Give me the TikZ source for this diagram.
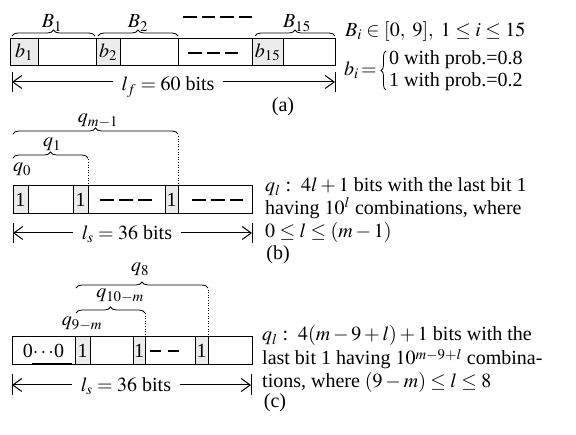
\documentclass[tikz,border=0pt]{standalone}
\usepackage{mathptmx}
\usepackage{fontspec}
\setmainfont{Liberation Serif}
\usetikzlibrary{arrows.meta,decorations.pathreplacing}
\tikzset{
  blk/.style={draw, line width=1pt, inner sep=0pt, outer sep=0pt, anchor=north west},
  cellg/.style={blk, fill=black!8},
  brc/.style={decorate, decoration={brace, amplitude=6pt}, line width=0.8pt},
  vbrc/.style={decorate, decoration={brace, amplitude=5pt}, line width=0.8pt},
  dotl/.style={dotted, line width=0.6pt},
  dsh/.style={line width=1.1pt, dash pattern=on 13.5pt off 5pt},
  dim/.style={line width=1pt, {Straight Barb[length=9pt,width=13pt]}-{Straight Barb[length=9pt,width=13pt]}},
  bar/.style={line width=1pt},
  lbl/.style={inner sep=0pt, anchor=base},
  txt/.style={inner sep=0pt, anchor=base west},
  dlbl/.style={fill=white, inner xsep=9pt, inner ysep=2pt, anchor=base}
}
\begin{document}
\begin{tikzpicture}[x=1pt, y=-1pt, font=\fontsize{20}{22}\selectfont]
\useasboundingbox (0,0) rectangle (576,435);
% ---------- (a) ----------
\node[blk, minimum width=86pt, minimum height=27pt] (a1) at (10,39) {};
\node[cellg, minimum width=28pt, minimum height=27pt] (ab1) at (10,39) {$b_1$};
\node[blk, minimum width=82pt, minimum height=27pt] (a2) at (96,39) {};
\node[cellg, minimum width=24pt, minimum height=27pt] (ab2) at (96,39) {$b_2$};
\node[blk, minimum width=74pt, minimum height=27pt] (a3) at (178,39) {};
\node[blk, minimum width=83pt, minimum height=27pt] (a4) at (252,39) {};
\node[cellg, minimum width=31pt, minimum height=27pt] (ab15) at (252,39) {$b_{15}$};
\coordinate (ad1) at (188,53); \coordinate (ad2) at (238,53);
\draw[dsh] (ad1) -- (ad2);
\draw[brc] ([xshift=2pt,yshift=3pt]a1.north west) -- ([xshift=-1pt,yshift=3pt]a1.north east);
\draw[brc] ([xshift=2pt,yshift=3pt]a2.north west) -- ([yshift=3pt]a2.north east);
\draw[brc] ([xshift=3pt,yshift=3pt]a4.north west) -- ([yshift=3pt]a4.north east);
\node[lbl] (B1) at (52,28) {$B_1$};
\node[lbl] (B2) at (138,28) {$B_2$};
\node[lbl] (B15) at (297,28) {$B_{15}$};
\coordinate (td1) at (183,17); \coordinate (td2) at (252,17);
\draw[dsh] (td1) -- (td2);
\coordinate (la) at (12,82); \coordinate (ra) at (335,82);
\draw[bar] (12,72) -- (12,92);
\draw[bar] (335,72) -- (335,92);
\draw[dim] (la) -- (ra);
\node[dlbl] (lf) at (168,91) {$l_f = 60$ bits};
\node[lbl] (capa) at (283,112) {(a)};
\node[txt] (ta1) at (345,37) {$B_i \in [0,\ 9],\ 1\le i\le 15$};
\node[txt] (tbi) at (344,76) {$b_i\mkern-2mu =$};
\coordinate (vb1) at (386,90); \coordinate (vb2) at (386,51);
\draw[vbrc] (vb1) -- (vb2);
\node[txt] (tp1) at (389,65) {0 with prob.=0.8};
\node[txt] (tp2) at (389,87) {1 with prob.=0.2};
% ---------- (b) ----------
\node[cellg, minimum width=15pt, minimum height=28pt] (b1) at (13,186) {1};
\node[blk, minimum width=45pt, minimum height=28pt] (b2) at (28,186) {};
\node[cellg, minimum width=15pt, minimum height=28pt] (b3) at (73,186) {1};
\node[blk, minimum width=77pt, minimum height=28pt] (b4) at (88,186) {};
\node[cellg, minimum width=13pt, minimum height=28pt] (b5) at (165,186) {1};
\node[blk, minimum width=74pt, minimum height=28pt] (b6) at (178,186) {};
\coordinate (bd1) at (100,200); \coordinate (bd2) at (152,200);
\coordinate (bd3) at (192,200); \coordinate (bd4) at (243,200);
\draw[dsh, dash pattern=on 14pt off 5pt] (bd1) -- (bd2);
\draw[dsh, dash pattern=on 14pt off 5pt] (bd3) -- (bd4);
\draw[brc] ([yshift=52pt]b1.north west) -- ([yshift=52pt]b5.north east);
\draw[brc] ([yshift=28pt]b1.north west) -- ([yshift=28pt]b3.north east);
\draw[dotl] (b5.north east) -- ++(0,-52);
\draw[dotl] (b3.north east) -- ++(0,-28);
\node[lbl] (qm1) at (98,123) {$q_{m-1}$};
\node[lbl] (q1) at (52,147) {$q_1$};
\node[lbl] (q0) at (22,172) {$q_0$};
\coordinate (lb) at (13,233); \coordinate (rb) at (252,233);
\draw[bar] (13,223) -- (13,243);
\draw[bar] (252,223) -- (252,243);
\draw[dim] (lb) -- (rb);
\node[dlbl] (ls1) at (127,240) {$l_s = 36$ bits};
\node[txt] (tb1) at (265,192) {$q_l$ :\ \ $4l+1$ bits with the last bit 1};
\node[txt] (tb2) at (265,215) {having $10^l$ combinations, where};
\node[txt] (tb3) at (265,238) {$0\le l\le (m-1)$};
\node[lbl] (capb) at (278,260) {(b)};
% ---------- (c) ----------
\node[blk, minimum width=63pt, minimum height=28pt] (c1) at (12,337) {0$\cdots$0};
\node[cellg, minimum width=15pt, minimum height=28pt] (c2) at (75,337) {1};
\node[blk, minimum width=43pt, minimum height=28pt] (c3) at (90,337) {};
\node[cellg, minimum width=12pt, minimum height=28pt] (c4) at (133,337) {1};
\node[blk, minimum width=50pt, minimum height=28pt] (c5) at (145,337) {};
\node[cellg, minimum width=13pt, minimum height=28pt] (c6) at (195,337) {1};
\node[blk, minimum width=44pt, minimum height=28pt] (c7) at (208,337) {};
\coordinate (ul1) at (32,363); \coordinate (ul2) at (72,363);
\draw[line width=0.9pt] (ul1) -- (ul2);
\coordinate (cd1) at (150,351); \coordinate (cd2) at (182,351);
\draw[dsh, dash pattern=on 11pt off 7pt] (cd1) -- (cd2);
\draw[brc] ([xshift=1pt,yshift=49pt]c2.north west) -- ([yshift=49pt]c6.north east);
\draw[brc] ([xshift=1pt,yshift=24pt]c2.north west) -- ([yshift=24pt]c4.north east);
\draw[dotl] (c6.north east) -- ++(0,-49);
\draw[dotl] (c4.north east) -- ++(0,-24);
\node[lbl] (q8) at (140,272) {$q_8$};
\node[lbl] (q10m) at (120,298) {$q_{10-m}$};
\node[lbl] (q9m) at (82,326) {$q_{9-m}$};
\coordinate (lc) at (12,385); \coordinate (rc) at (251,385);
\draw[bar] (12,374) -- (12,395);
\draw[bar] (251,374) -- (251,395);
\draw[dim] (lc) -- (rc);
\node[dlbl] (ls2) at (126,392) {$l_s = 36$ bits};
\node[txt] (tc1) at (262,341) {$q_l$ :\ \ $4(m-9+l)+1$ bits with the};
\node[txt] (tc2) at (262,365) {last bit 1 having $10^{\raisebox{-1.5pt}{$\scriptstyle m-9+l$}}$ combina-};
\node[txt] (tc3) at (262,388) {tions, where $(9-m)\le l\le 8$};
\node[lbl] (capc) at (275,408) {(c)};
\end{tikzpicture}
\end{document}
